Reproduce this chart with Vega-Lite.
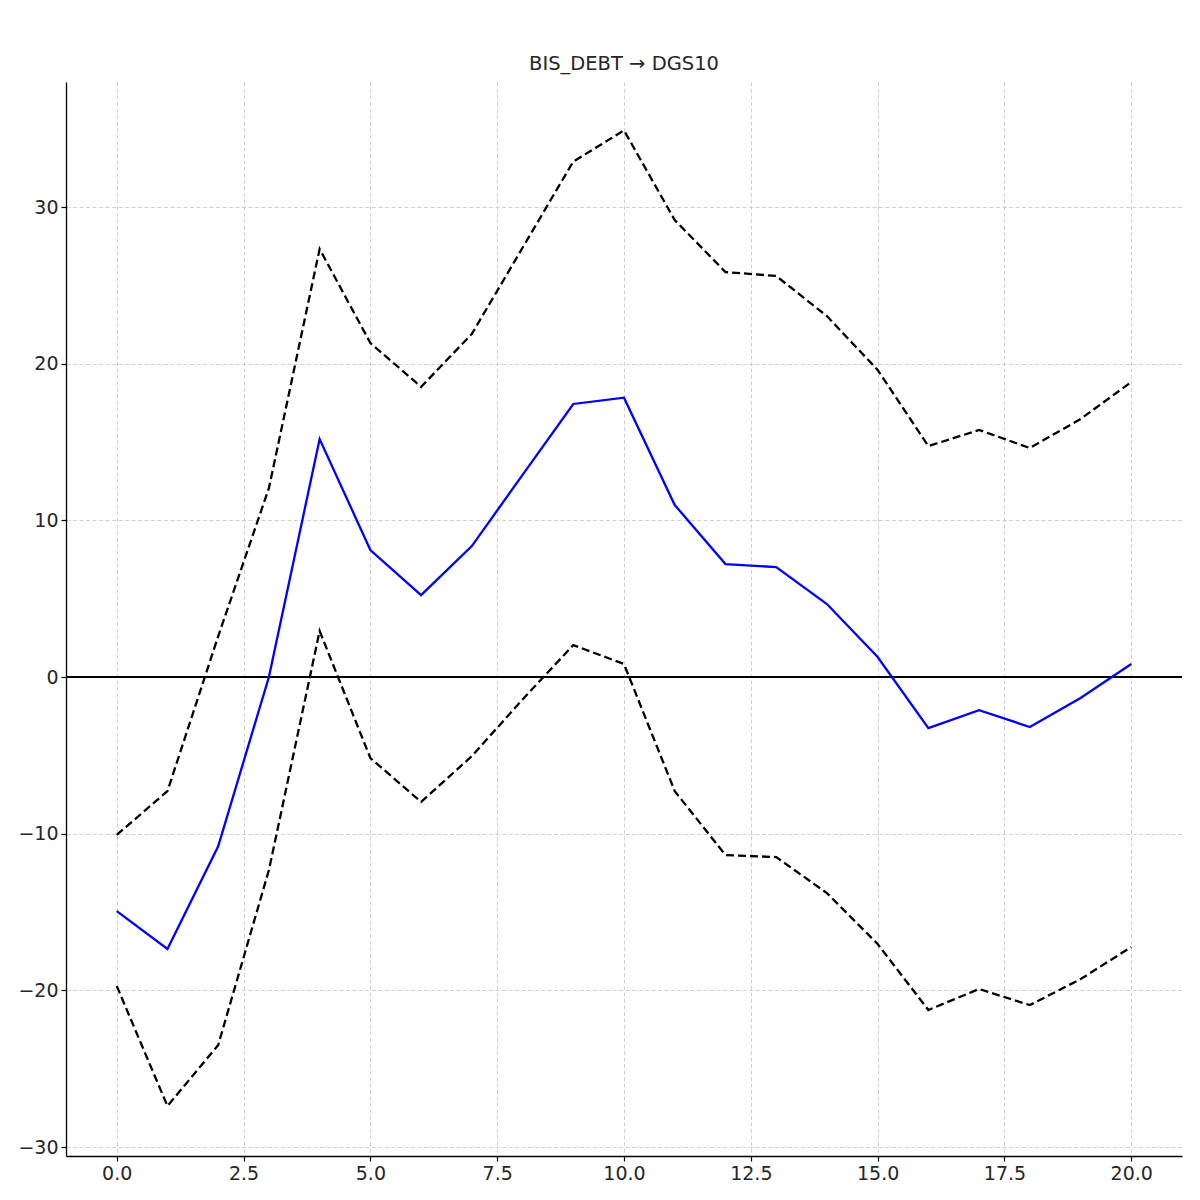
{
  "$schema": "https://vega.github.io/schema/vega-lite/v6.json",
  "autosize": "none",
  "width": 1116,
  "height": 1074,
  "padding": {"left": 66, "top": 82, "right": 18, "bottom": 44},
  "background": "white",
  "title": {"text": "BIS_DEBT → DGS10", "font": "DejaVu Sans", "fontSize": 19.5, "fontWeight": "normal", "color": "#262626", "offset": 8, "anchor": "middle"},
  "config": {
    "view": {"stroke": null},
    "axis": {
      "labelFont": "DejaVu Sans", "labelFontSize": 19, "labelColor": "#262626",
      "domainColor": "black", "domainWidth": 1.3, "tickColor": "black", "tickSize": 5, "tickWidth": 1.2,
      "gridColor": "#cccccc", "gridDash": [4, 2.5], "gridWidth": 0.9, "labelPadding": 3, "title": null
    }
  },
  "data": {"values": [
    {"h": 0, "irf": -14.94, "lo": -19.72, "up": -10.08},
    {"h": 1, "irf": -17.36, "lo": -27.38, "up": -7.28},
    {"h": 2, "irf": -10.8, "lo": -23.49, "up": 2.6},
    {"h": 3, "irf": 0.0, "lo": -12.32, "up": 12.06},
    {"h": 4, "irf": 15.19, "lo": 2.94, "up": 27.32},
    {"h": 5, "irf": 8.11, "lo": -5.17, "up": 21.32},
    {"h": 6, "irf": 5.23, "lo": -7.97, "up": 18.52},
    {"h": 7, "irf": 8.36, "lo": -5.05, "up": 21.9},
    {"h": 8, "irf": 12.9, "lo": -1.43, "up": 27.4},
    {"h": 9, "irf": 17.43, "lo": 2.04, "up": 32.9},
    {"h": 10, "irf": 17.83, "lo": 0.83, "up": 34.89},
    {"h": 11, "irf": 10.98, "lo": -7.28, "up": 29.17},
    {"h": 12, "irf": 7.21, "lo": -11.36, "up": 25.85},
    {"h": 13, "irf": 7.02, "lo": -11.49, "up": 25.6},
    {"h": 14, "irf": 4.66, "lo": -13.79, "up": 23.04},
    {"h": 15, "irf": 1.28, "lo": -17.04, "up": 19.6},
    {"h": 16, "irf": -3.26, "lo": -21.25, "up": 14.74},
    {"h": 17, "irf": -2.11, "lo": -19.91, "up": 15.77},
    {"h": 18, "irf": -3.19, "lo": -20.94, "up": 14.62},
    {"h": 19, "irf": -1.34, "lo": -19.28, "up": 16.47},
    {"h": 20, "irf": 0.83, "lo": -17.23, "up": 18.83}
  ]},
  "encoding": {
    "x": {"field": "h", "type": "quantitative",
      "scale": {"domain": [-1, 21], "nice": false, "zero": false},
      "axis": {"values": [0, 2.5, 5, 7.5, 10, 12.5, 15, 17.5, 20], "format": ".1f", "grid": true}}
  },
  "layer": [
    {
      "mark": {"type": "rule", "color": "black", "strokeWidth": 2},
      "encoding": {"y": {"datum": 0, "type": "quantitative"}, "x": null}
    },
    {
      "mark": {"type": "line", "color": "black", "strokeWidth": 2.3, "strokeDash": [8, 4]},
      "encoding": {"y": {"field": "up", "type": "quantitative",
        "scale": {"domain": [-30.57, 37.98], "nice": false, "zero": false},
        "axis": {"values": [-30, -20, -10, 0, 10, 20, 30], "format": "d", "grid": true}}}
    },
    {
      "mark": {"type": "line", "color": "black", "strokeWidth": 2.3, "strokeDash": [8, 4]},
      "encoding": {"y": {"field": "lo", "type": "quantitative"}}
    },
    {
      "mark": {"type": "line", "color": "blue", "strokeWidth": 2.3},
      "encoding": {"y": {"field": "irf", "type": "quantitative"}}
    }
  ]
}
